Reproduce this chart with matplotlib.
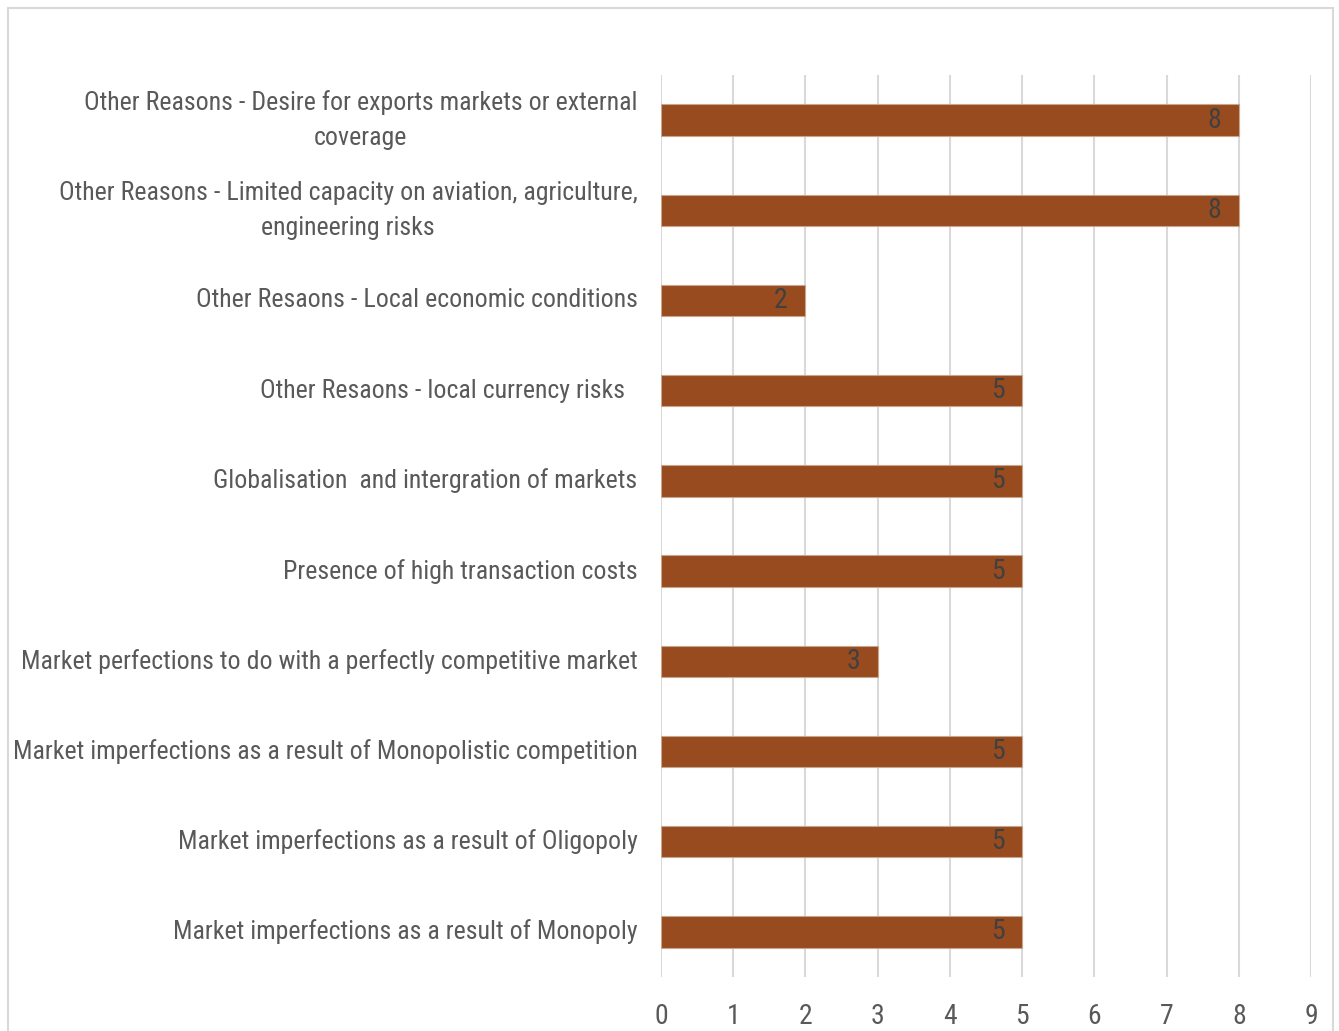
import matplotlib
matplotlib.use("Agg")
import matplotlib.pyplot as plt
from matplotlib.patches import Rectangle
from matplotlib import font_manager as fm

categories = [
    "Other Reasons - Desire for exports markets or external\ncoverage",
    "Other Reasons - Limited capacity on aviation, agriculture,\nengineering risks",
    "Other Resaons - Local economic conditions",
    "Other Resaons - local currency risks  ",
    "Globalisation  and intergration of markets",
    "Presence of high transaction costs",
    "Market perfections to do with a perfectly competitive market",
    "Market imperfections as a result of Monopolistic competition",
    "Market imperfections as a result of Oligopoly",
    "Market imperfections as a result of Monopoly",
]
values = [8, 8, 2, 5, 5, 5, 3, 5, 5, 5]
xticks = list(range(0, 10))

# pick a narrow font if one is installed
names = {f.name for f in fm.fontManager.ttflist}
stretch = "normal"
family = None
for cand in ["Liberation Sans Narrow", "Roboto Condensed", "Open Sans Condensed",
             "Noto Sans Condensed", "DejaVu Sans Condensed"]:
    if cand in names:
        family = cand
        break
if family is None:
    cond = [f for f in fm.fontManager.ttflist
            if f.name in ("Roboto", "Noto Sans", "Open Sans", "DejaVu Sans")
            and str(f.stretch) in ("condensed", "semi-condensed", "extra-condensed", "500", "700", "300")
            and f.style == "normal"]
    if cond:
        family = cond[0].name
        stretch = cond[0].stretch
    else:
        family = "Lato"
FONT = [family, "DejaVu Sans"]
plt.rcParams["font.family"] = FONT
plt.rcParams["font.stretch"] = stretch

fig = plt.figure(figsize=(13.39, 10.31), dpi=100)
fig.patches.append(Rectangle((8 / 1339, -0.01), (1333 - 8) / 1339, 1.01 - 8 / 1031,
                             transform=fig.transFigure, fill=False,
                             edgecolor="#d9d9d9", linewidth=1.5))
ax = fig.add_axes([661 / 1339, 1 - 977 / 1031, (1311 - 661) / 1339, (977 - 75) / 1031])

# size labels so the longest one spans about 624 px, as in the reference
renderer = fig.canvas.get_renderer()
probe = fig.text(0, 0, categories[7], fontsize=20)
w20 = probe.get_window_extent(renderer).width
probe.remove()
lab_fs = min(20.0, 20.0 * 624.0 / w20)
num_fs = min(20.0, lab_fs * 1.12)

y = list(range(len(categories)))
ax.barh(y, values, height=0.35, color="#974B1E", edgecolor="#c9a58c",
        linewidth=0.8, zorder=3)
for yi, v in zip(y, values):
    ax.text(v - 0.34, yi, str(v), ha="center", va="center", fontsize=num_fs,
            color="#404040", zorder=4)

ax.set_xlim(0, 9)
ax.set_ylim(len(categories) - 0.5, -0.5)
ax.set_xticks(xticks)
ax.set_xticklabels([str(t) for t in xticks], fontsize=num_fs, color="#595959")
ax.set_yticks(y)
ax.set_yticklabels(categories, fontsize=lab_fs, color="#595959",
                   multialignment="center", linespacing=1.55)
for lbl in ax.get_yticklabels():
    lbl.set_verticalalignment("center")
ax.tick_params(axis="both", length=0)
ax.tick_params(axis="y", pad=17)
ax.tick_params(axis="x", pad=19)
ax.grid(axis="x", color="#d9d9d9", linewidth=1.5, zorder=0)
for s in ax.spines.values():
    s.set_visible(False)

fig.savefig("out.png", dpi=100)
